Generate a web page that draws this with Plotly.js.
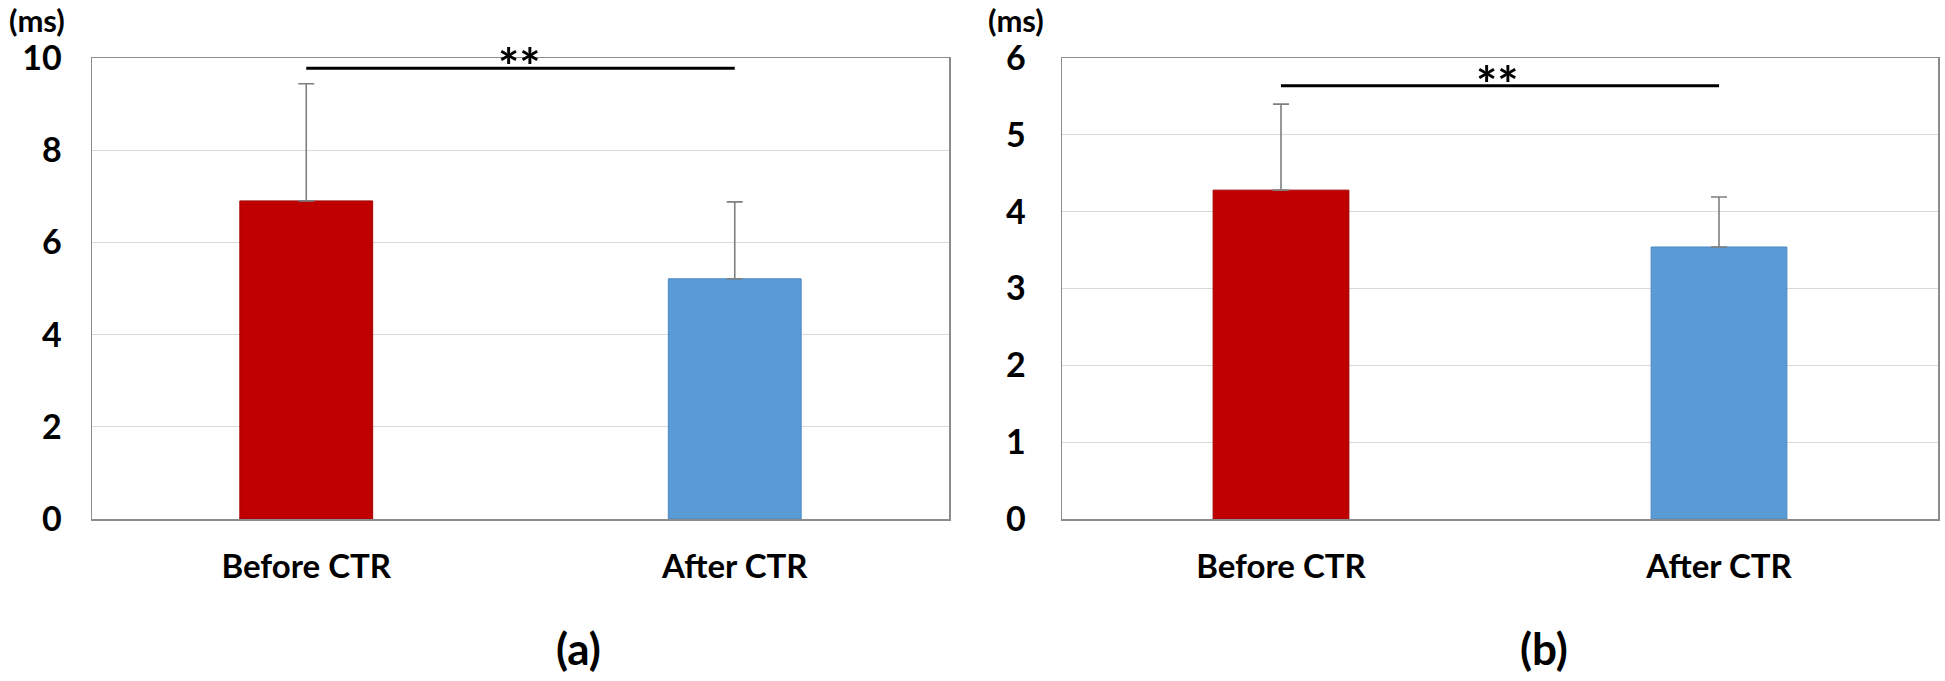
<!DOCTYPE html>
<html>
<head>
<meta charset="utf-8">
<script src="https://cdn.plot.ly/plotly-3.0.1.min.js"></script>
<style>html,body{margin:0;padding:0;background:#fff;}#chart{width:1945px;height:681px;}</style>
</head>
<body>
<div id="chart"></div>
<script>
// ---- data ----
const categories = ['Before CTR', 'After CTR'];
const meanA = [6.90, 5.21];
const sdA = [2.54, 1.67];
const meanB = [4.28, 3.54];
const sdB = [1.12, 0.65];
const sigLevel = [9.78, 5.64];
const sigStars = ['**', '**'];
const panelLabels = ['(a)', '(b)'];
const unitLabel = '(ms)';
const yRanges = [[0, 10], [0, 6]];
const yTicks = [[0, 2, 4, 6, 8, 10], [0, 1, 2, 3, 4, 5, 6]];
const barColors = ['#c00000', '#5b9bd5'];

const W = 1945, H = 681;
const FONT = 'Lato, "Open Sans", sans-serif';

function barTrace(means, sds, xa, ya) {
  return {
    type: 'bar', x: categories, y: means, xaxis: xa, yaxis: ya,
    width: 0.31,
    marker: {color: barColors, line: {color: ['#a00000', '#4a8ac4'], width: 1}},
    error_y: {type: 'data', array: sds, arrayminus: sds.map(() => 0), symmetric: false,
              color: '#7f7f7f', thickness: 1.6, width: 8},
    hoverinfo: 'skip', showlegend: false
  };
}

const data = [barTrace(meanA, sdA, 'x', 'y'), barTrace(meanB, sdB, 'x2', 'y2')];

function xax(domain, anchor) {
  return {domain: domain, anchor: anchor, type: 'category', range: [-0.5, 1.5],
    showline: true, mirror: true, linecolor: '#8c8c8c', linewidth: 1.5,
    showgrid: false, zeroline: false, ticks: '', ticklabelstandoff: 18,
    tickfont: {family: FONT, size: 33, color: '#000', weight: 700}, fixedrange: true};
}
function yax(domain, anchor, range, ticks, standoff) {
  return {domain: domain, anchor: anchor, range: range, tickvals: ticks,
    showline: true, mirror: true, linecolor: '#8c8c8c', linewidth: 1.5,
    showgrid: true, gridcolor: '#d9d9d9', gridwidth: 1.3, zeroline: false, ticks: '',
    ticklabelstandoff: standoff,
    tickfont: {family: FONT, size: 34, color: '#000', weight: 700}, fixedrange: true};
}

function px(x, y, text, size) {
  return {xref: 'paper', yref: 'paper', x: x / W, y: 1 - y / H, xanchor: 'center', yanchor: 'middle',
    text: text, showarrow: false, font: {family: FONT, size: size, color: '#000', weight: 700}};
}

const yDom = [(H - 519) / H, (H - 58) / H];
const layout = {
  width: W, height: H,
  margin: {l: 0, r: 0, t: 0, b: 0},
  paper_bgcolor: '#fff', plot_bgcolor: '#fff',
  showlegend: false,
  xaxis: xax([92 / W, 949 / W], 'y'),
  yaxis: yax(yDom, 'x', yRanges[0], yTicks[0], 22),
  xaxis2: xax([1062 / W, 1938 / W], 'y2'),
  yaxis2: yax(yDom, 'x2', yRanges[1], yTicks[1], 28),
  shapes: [
    {type: 'line', xref: 'x', yref: 'y', x0: categories[0], x1: categories[1], y0: sigLevel[0], y1: sigLevel[0],
     line: {color: '#000', width: 3}},
    {type: 'line', xref: 'x2', yref: 'y2', x0: categories[0], x1: categories[1], y0: sigLevel[1], y1: sigLevel[1],
     line: {color: '#000', width: 3}}
  ],
  annotations: [
    px(519, 66, sigStars[0], 50),
    px(1497, 84, sigStars[1], 50),
    px(37, 20, unitLabel, 31),
    px(1016, 20, unitLabel, 31),
    px(578, 648, panelLabels[0], 44),
    px(1544, 648, panelLabels[1], 44)
  ]
};

Plotly.newPlot('chart', data, layout, {staticPlot: true, displayModeBar: false});
</script>
</body>
</html>
